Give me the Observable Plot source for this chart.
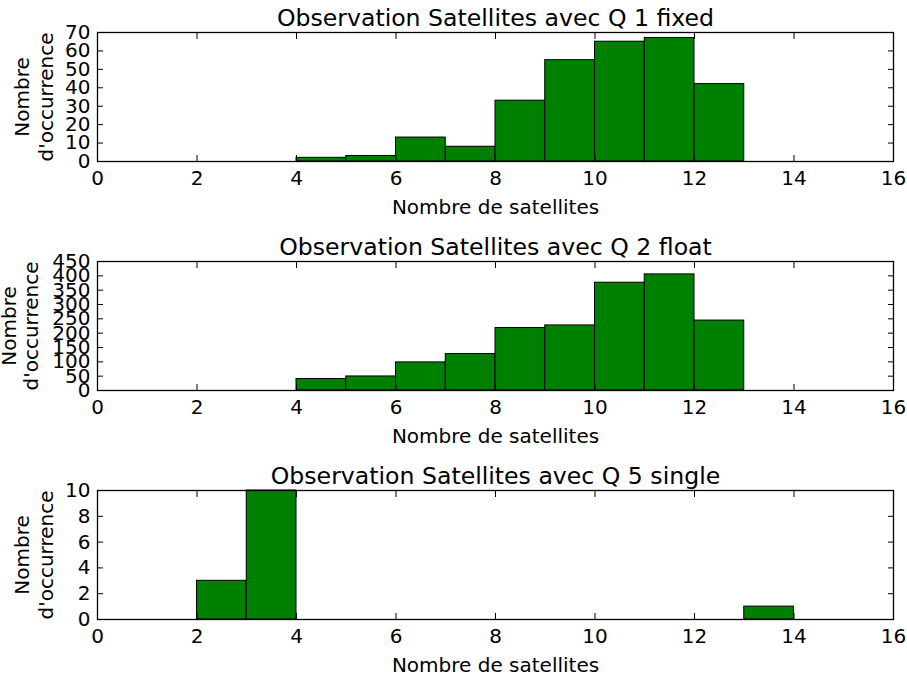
<!DOCTYPE html>
<html>
<head>
<meta charset="utf-8">
<script src="https://cdn.jsdelivr.net/npm/d3@7"></script>
<script src="https://cdn.jsdelivr.net/npm/@observablehq/plot@0.6"></script>
<style>
  html, body { margin: 0; padding: 0; background: #fff; }
  #chart { width: 907px; height: 679px; position: relative; }
  #chart svg { display: block; overflow: visible; }
</style>
</head>
<body>
<div id="chart"></div>
<script>
// Bin edges (number of satellites), one bin per integer from 0 to 15
const binStarts = [0, 1, 2, 3, 4, 5, 6, 7, 8, 9, 10, 11, 12, 13, 14];
// Counts per bin
const q1Counts = [0, 0, 0, 0, 2, 3, 13, 8, 33, 55, 65, 67, 42, 0, 0];
const q2Counts = [0, 0, 0, 0, 40, 49, 98, 127, 218, 227, 376, 405, 244, 0, 0];
const q5Counts = [0, 0, 3, 10, 0, 0, 0, 0, 0, 0, 0, 0, 0, 1, 0];

const titles = [
  "Observation Satellites avec Q 1 fixed",
  "Observation Satellites avec Q 2 float",
  "Observation Satellites avec Q 5 single"
];
const xTicks = [0, 2, 4, 6, 8, 10, 12, 14, 16];
const q1YTicks = [0, 10, 20, 30, 40, 50, 60, 70];
const q2YTicks = [0, 50, 100, 150, 200, 250, 300, 350, 400, 450];
const q5YTicks = [0, 2, 4, 6, 8, 10];
const xLabel = "Nombre de satellites";
const yLabelLines = ["Nombre", "d'occurrence"];

function panel(title, counts, yTicks, svgHeight, yLabDx) {
  const data = binStarts.map((b, i) => ({lo: b, hi: b + 1, n: counts[i]}));
  const yMax = yTicks[yTicks.length - 1];
  return Plot.plot({
    width: 907,
    height: svgHeight,
    marginLeft: 97,
    marginRight: 14,
    marginTop: 32,
    marginBottom: svgHeight - 32 - 129,
    style: {fontFamily: "'DejaVu Sans', sans-serif", fontSize: "20px", color: "black", background: "white", overflow: "visible"},
    x: {domain: [0, 16], ticks: xTicks, label: null},
    y: {domain: [0, yMax], ticks: yTicks, label: null},
    marks: [
      Plot.rectY(data, {x1: "lo", x2: "hi", y: "n", fill: "#008000", stroke: "black", strokeWidth: 1}),
      Plot.ruleY([0], {x1: 0, x2: 15, stroke: "black", strokeWidth: 1}),
      Plot.frame({stroke: "black", strokeWidth: 1.3}),
      Plot.axisX(xTicks, {anchor: "bottom", tickSize: -6, tickFormat: () => "", stroke: "black"}),
      Plot.axisX(xTicks, {anchor: "top", tickSize: -6, tickFormat: () => "", stroke: "black"}),
      Plot.axisY(yTicks, {anchor: "left", tickSize: -6, tickFormat: () => "", stroke: "black"}),
      Plot.axisY(yTicks, {anchor: "right", tickSize: -6, tickFormat: () => "", stroke: "black"}),
      Plot.axisX(xTicks, {anchor: "bottom", tickSize: 0, tickPadding: 9, fontSize: 20, fill: "black"}),
      Plot.axisY(yTicks, {anchor: "left", tickSize: 0, tickPadding: 7, fontSize: 20, fill: "black"}),
      Plot.text([title], {frameAnchor: "top", lineAnchor: "bottom", dy: -7, fontSize: 23.6, fill: "black"}),
      Plot.text([xLabel], {frameAnchor: "bottom", lineAnchor: "bottom", dy: 52, fontSize: 20, fill: "black"}),
      Plot.text([yLabelLines[0]], {frameAnchor: "left", textAnchor: "middle", lineAnchor: "bottom", rotate: -90, dx: yLabDx[0], fontSize: 20, fill: "black"}),
      Plot.text([yLabelLines[1]], {frameAnchor: "left", textAnchor: "middle", lineAnchor: "bottom", rotate: -90, dx: yLabDx[1], fontSize: 20, fill: "black"})
    ]
  });
}

const chart = document.getElementById("chart");
chart.appendChild(panel(titles[0], q1Counts, q1YTicks, 229, [-69, -45]));
chart.appendChild(panel(titles[1], q2Counts, q2YTicks, 229, [-82, -60]));
chart.appendChild(panel(titles[2], q5Counts, q5YTicks, 221, [-69, -45]));
</script>
</body>
</html>
